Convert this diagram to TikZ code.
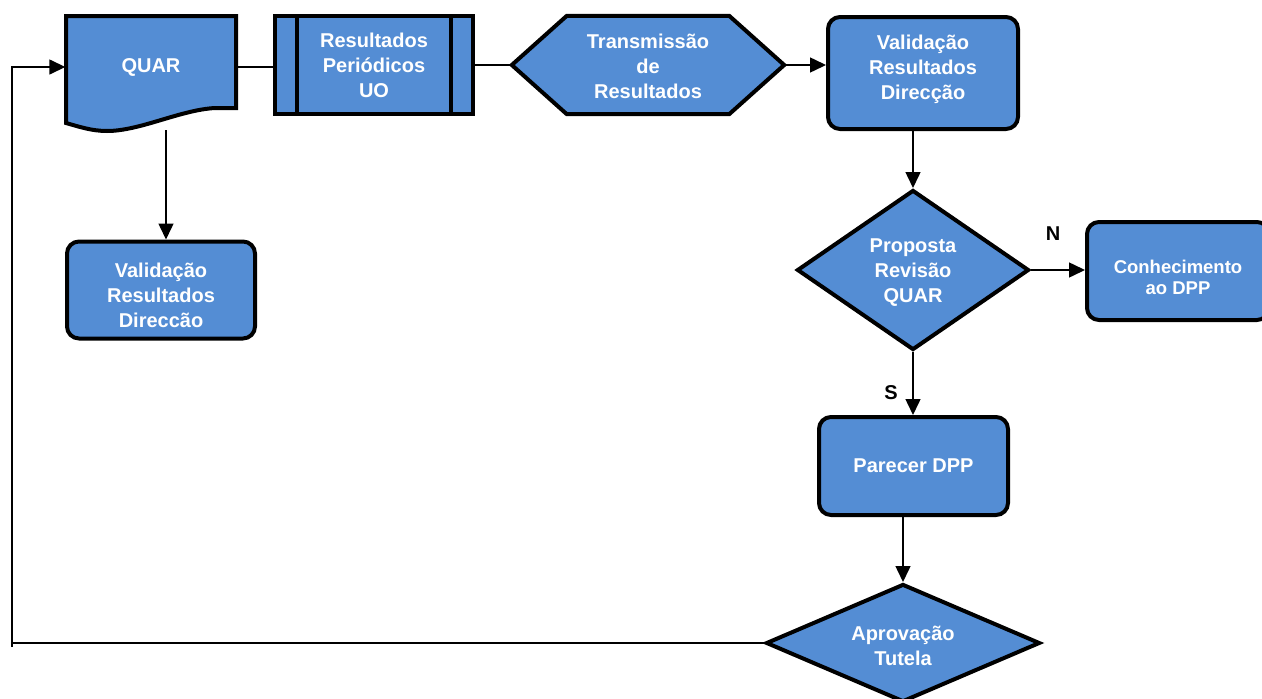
\documentclass[tikz,border=0pt]{standalone}
\usepackage{fontspec}
\setmainfont{Liberation Sans}
\usetikzlibrary{shapes.geometric,arrows.meta}
\definecolor{qblue}{RGB}{84,141,212}
\tikzset{
  shapeline/.style={draw=black, line width=4pt, fill=qblue},
  rbox/.style={shapeline, rectangle, rounded corners=12pt, inner sep=0pt},
  dia/.style={shapeline, diamond, inner sep=0pt},
  txt/.style={text=white, font=\bfseries\fontsize{20}{25}\selectfont, align=center},
  smalltxt/.style={text=white, font=\bfseries\fontsize{18.5}{21}\selectfont, align=center},
  yn/.style={text=black, font=\bfseries\fontsize{20}{24}\selectfont},
  conn/.style={draw=black, line width=1.5pt},
  arr/.style={conn, -{Triangle[length=16pt,width=15pt]}},
}
\begin{document}
\begin{tikzpicture}[x=1pt,y=-1pt]
\clip (0,0) rectangle (1262,699);
\fill[white] (0,0) rectangle (1262,699);

% document shape (QUAR)
\draw[shapeline, line join=miter]
  (66,16) -- (236,16) -- (236,108) -- (215,108)
  .. controls (180,110) and (140,131) .. (107,131)
  .. controls (92,131) and (80,127) .. (66,123) -- cycle;
\node[txt, minimum width=171pt, inner sep=0pt] (quar) at (151,67) {QUAR};
\coordinate (quarbot) at (166,130);

% predefined process
\node[shapeline, rectangle, minimum width=198pt, minimum height=98pt, inner sep=0pt, txt] (res) at (374,65)
  {Resultados\\Periódicos\\UO};
\draw[line width=4pt] ([xshift=24pt]res.north west) -- ([xshift=24pt]res.south west);
\draw[line width=4pt] ([xshift=-24pt]res.north east) -- ([xshift=-24pt]res.south east);

% hexagon
\node[minimum width=272pt, minimum height=98pt, inner sep=0pt, txt] (trans) at (648,65) {};
\draw[shapeline]
  (trans.west) -- ([xshift=55pt]trans.north west) -- ([xshift=-55pt]trans.north east)
  -- (trans.east) -- ([xshift=-55pt]trans.south east) -- ([xshift=55pt]trans.south west) -- cycle;
\node[txt] (transt) at (648,66) {Transmissão\\de\\Resultados};

% boxes
\node[rbox, minimum width=190pt, minimum height=112pt] (valR) at (923,73) {};
\node[txt] (valRt) at (923,69) {Validação\\Resultados\\Direcção};

\node[rbox, minimum width=188pt, minimum height=97pt] (valL) at (161,290) {};
\node[txt] (valLt) at (161,295) {Validação\\Resultados\\Direccão};

\node[rbox, minimum width=182pt, minimum height=98pt] (conh) at (1178,271) {};
\node[smalltxt] (conht) at (1178,277) {Conhecimento\\ao DPP};

\node[rbox, minimum width=189pt, minimum height=98pt, txt] (parecer) at (913.5,466) {Parecer DPP};

% decisions
\node[dia, aspect=1.43, minimum width=232pt, minimum height=160pt] (prop) at (913,270) {};
\node[txt] (propt) at (913,273) {Proposta\\Revisão\\QUAR};

\node[dia, aspect=2.3, minimum width=274pt, minimum height=118pt] (aprov) at (903,643) {};
\node[txt] (aprovt) at (903,645.5) {Aprovação\\Tutela};

% labels
\node[yn] (lblN) at (1053,234) {N};
\node[yn] (lblS) at (891,393) {S};

% connectors
\draw[conn] (quar.east) -- (quar.east -| res.west);
\draw[conn] (res.east) -- (trans.west);
\draw[arr] (trans.east) -- (trans.east -| valR.west);
\draw[arr] (quarbot) -- (quarbot |- valL.north);
\draw[arr] (prop.north |- valR.south) -- (prop.north);
\draw[arr] (prop.east) -- (prop.east -| conh.west);
\draw[arr] (prop.south) -- (prop.south |- parecer.north);
\draw[arr] (aprov.north |- parecer.south) -- (aprov.north);

% return path to QUAR
\coordinate (fb) at (12,643);
\draw[conn, line width=2.6pt] (aprov.west) -- ([xshift=-1pt]fb);
\draw[arr] ([yshift=-4pt]fb) |- (quar.west);
\end{tikzpicture}
\end{document}
